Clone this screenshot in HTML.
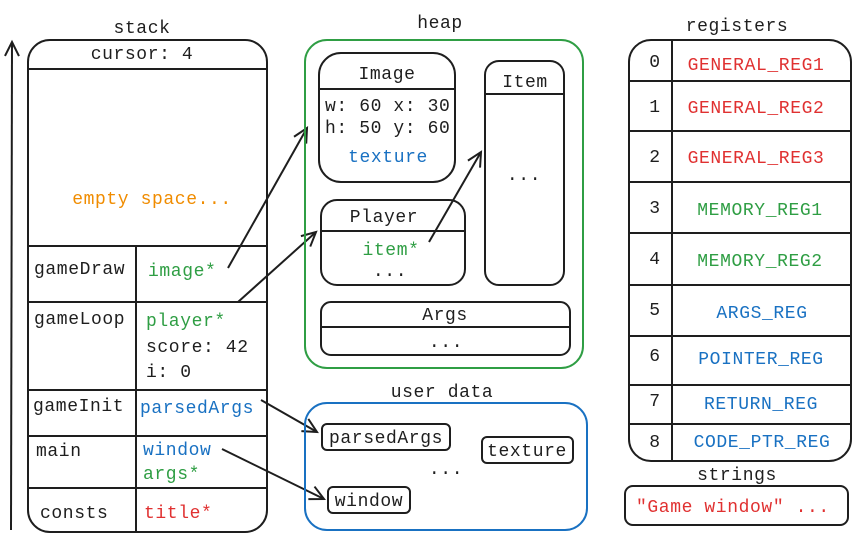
<!DOCTYPE html>
<html><head><meta charset="utf-8"><style>
body{margin:0;background:#fff}
text{font-family:"Liberation Mono",monospace;font-size:18px;letter-spacing:0.6px}
.k{fill:#1e1e1e}.g{fill:#2f9e44}.b{fill:#1971c2}.r{fill:#e03131}.o{fill:#f08c00}
</style></head><body>
<svg width="861" height="544" viewBox="0 0 861 544" xmlns="http://www.w3.org/2000/svg">
<defs><marker id="a" markerWidth="18" markerHeight="18" refX="15" refY="9" orient="auto" markerUnits="userSpaceOnUse"><path d="M1,2 L15,9 L1,16" fill="none" stroke="#1e1e1e" stroke-width="2"/></marker></defs>
<g fill="none" stroke="#1e1e1e" stroke-width="2">
<line x1="11" y1="530" x2="12" y2="42" marker-end="url(#a)"/>
<rect x="28" y="40" width="239" height="492" rx="22"/>
<line x1="28" y1="69" x2="267" y2="69"/>
<line x1="28" y1="246" x2="267" y2="246"/>
<line x1="28" y1="302" x2="267" y2="302"/>
<line x1="28" y1="390" x2="267" y2="390"/>
<line x1="28" y1="436" x2="267" y2="436"/>
<line x1="28" y1="488" x2="267" y2="488"/>
<line x1="136" y1="246" x2="136" y2="532"/>
<rect x="319" y="53" width="136" height="129" rx="22"/>
<line x1="319" y1="89" x2="455" y2="89"/>
<rect x="485" y="61" width="79" height="224" rx="14"/>
<line x1="485" y1="94" x2="564" y2="94"/>
<rect x="321" y="200" width="144" height="85" rx="16"/>
<line x1="321" y1="231" x2="465" y2="231"/>
<rect x="321" y="302" width="249" height="53" rx="10"/>
<line x1="321" y1="327" x2="570" y2="327"/>
<rect x="322" y="424" width="128" height="26" rx="5"/>
<rect x="482" y="437" width="91" height="26" rx="5"/>
<rect x="328" y="487" width="82" height="26" rx="5"/>
<rect x="629" y="40" width="222" height="421" rx="22"/>
<line x1="672" y1="40" x2="672" y2="461"/>
<line x1="629" y1="81" x2="851" y2="81"/>
<line x1="629" y1="131" x2="851" y2="131"/>
<line x1="629" y1="182" x2="851" y2="182"/>
<line x1="629" y1="233" x2="851" y2="233"/>
<line x1="629" y1="285" x2="851" y2="285"/>
<line x1="629" y1="336" x2="851" y2="336"/>
<line x1="629" y1="385" x2="851" y2="385"/>
<line x1="629" y1="424" x2="851" y2="424"/>
<rect x="625" y="486" width="223" height="39" rx="8"/>
<line x1="228" y1="268" x2="307" y2="128" marker-end="url(#a)"/>
<line x1="238" y1="302" x2="316" y2="232" marker-end="url(#a)"/>
<line x1="429" y1="242" x2="481" y2="152" marker-end="url(#a)"/>
<line x1="261" y1="400" x2="317" y2="432" marker-end="url(#a)"/>
<line x1="222" y1="449" x2="324" y2="499" marker-end="url(#a)"/>
</g>
<rect x="305" y="40" width="278" height="328" rx="22" fill="none" stroke="#2f9e44" stroke-width="2"/>
<rect x="305" y="403" width="282" height="127" rx="22" fill="none" stroke="#1971c2" stroke-width="2"/>

<text class="k" x="142" y="33" text-anchor="middle">stack</text>
<text class="k" x="142" y="59" text-anchor="middle">cursor: 4</text>
<text class="o" x="152" y="204" text-anchor="middle">empty space...</text>
<text class="k" x="34" y="274">gameDraw</text>
<text class="g" x="148" y="276">image*</text>
<text class="k" x="34" y="324">gameLoop</text>
<text class="g" x="146" y="326">player*</text>
<text class="k" x="146" y="352">score: 42</text>
<text class="k" x="146" y="377">i: 0</text>
<text class="k" x="33" y="411">gameInit</text>
<text class="b" x="140" y="413">parsedArgs</text>
<text class="k" x="36" y="456">main</text>
<text class="b" x="143" y="455">window</text>
<text class="g" x="143" y="479">args*</text>
<text class="k" x="40" y="518">consts</text>
<text class="r" x="144" y="518">title*</text>

<text class="k" x="440" y="28" text-anchor="middle">heap</text>
<text class="k" x="387" y="79" text-anchor="middle">Image</text>
<text class="k" x="325" y="111">w: 60 x: 30</text>
<text class="k" x="325" y="133">h: 50 y: 60</text>
<text class="b" x="388" y="162" text-anchor="middle">texture</text>
<text class="k" x="525" y="87" text-anchor="middle">Item</text>
<text class="k" x="524" y="180" text-anchor="middle">...</text>
<text class="k" x="384" y="222" text-anchor="middle">Player</text>
<text class="g" x="391" y="255" text-anchor="middle">item*</text>
<text class="k" x="390" y="276" text-anchor="middle">...</text>
<text class="k" x="445" y="320" text-anchor="middle">Args</text>
<text class="k" x="446" y="347" text-anchor="middle">...</text>

<text class="k" x="442" y="397" text-anchor="middle">user data</text>
<text class="k" x="386" y="443" text-anchor="middle">parsedArgs</text>
<text class="k" x="527" y="456" text-anchor="middle">texture</text>
<text class="k" x="446" y="474" text-anchor="middle">...</text>
<text class="k" x="369" y="506" text-anchor="middle">window</text>

<text class="k" x="737" y="31" text-anchor="middle">registers</text>
<text class="k" x="655" y="67" text-anchor="middle">0</text><text class="r" x="756" y="70" text-anchor="middle">GENERAL_REG1</text>
<text class="k" x="655" y="112" text-anchor="middle">1</text><text class="r" x="756" y="113" text-anchor="middle">GENERAL_REG2</text>
<text class="k" x="655" y="162" text-anchor="middle">2</text><text class="r" x="756" y="163" text-anchor="middle">GENERAL_REG3</text>
<text class="k" x="655" y="213" text-anchor="middle">3</text><text class="g" x="760" y="215" text-anchor="middle">MEMORY_REG1</text>
<text class="k" x="655" y="264" text-anchor="middle">4</text><text class="g" x="760" y="266" text-anchor="middle">MEMORY_REG2</text>
<text class="k" x="655" y="315" text-anchor="middle">5</text><text class="b" x="762" y="318" text-anchor="middle">ARGS_REG</text>
<text class="k" x="655" y="361" text-anchor="middle">6</text><text class="b" x="761" y="364" text-anchor="middle">POINTER_REG</text>
<text class="k" x="655" y="406" text-anchor="middle">7</text><text class="b" x="761" y="409" text-anchor="middle">RETURN_REG</text>
<text class="k" x="655" y="447" text-anchor="middle">8</text><text class="b" x="762" y="447" text-anchor="middle">CODE_PTR_REG</text>
<text class="k" x="737" y="480" text-anchor="middle">strings</text>
<text class="r" x="636" y="512">"Game window" ...</text>
</svg>
</body></html>
